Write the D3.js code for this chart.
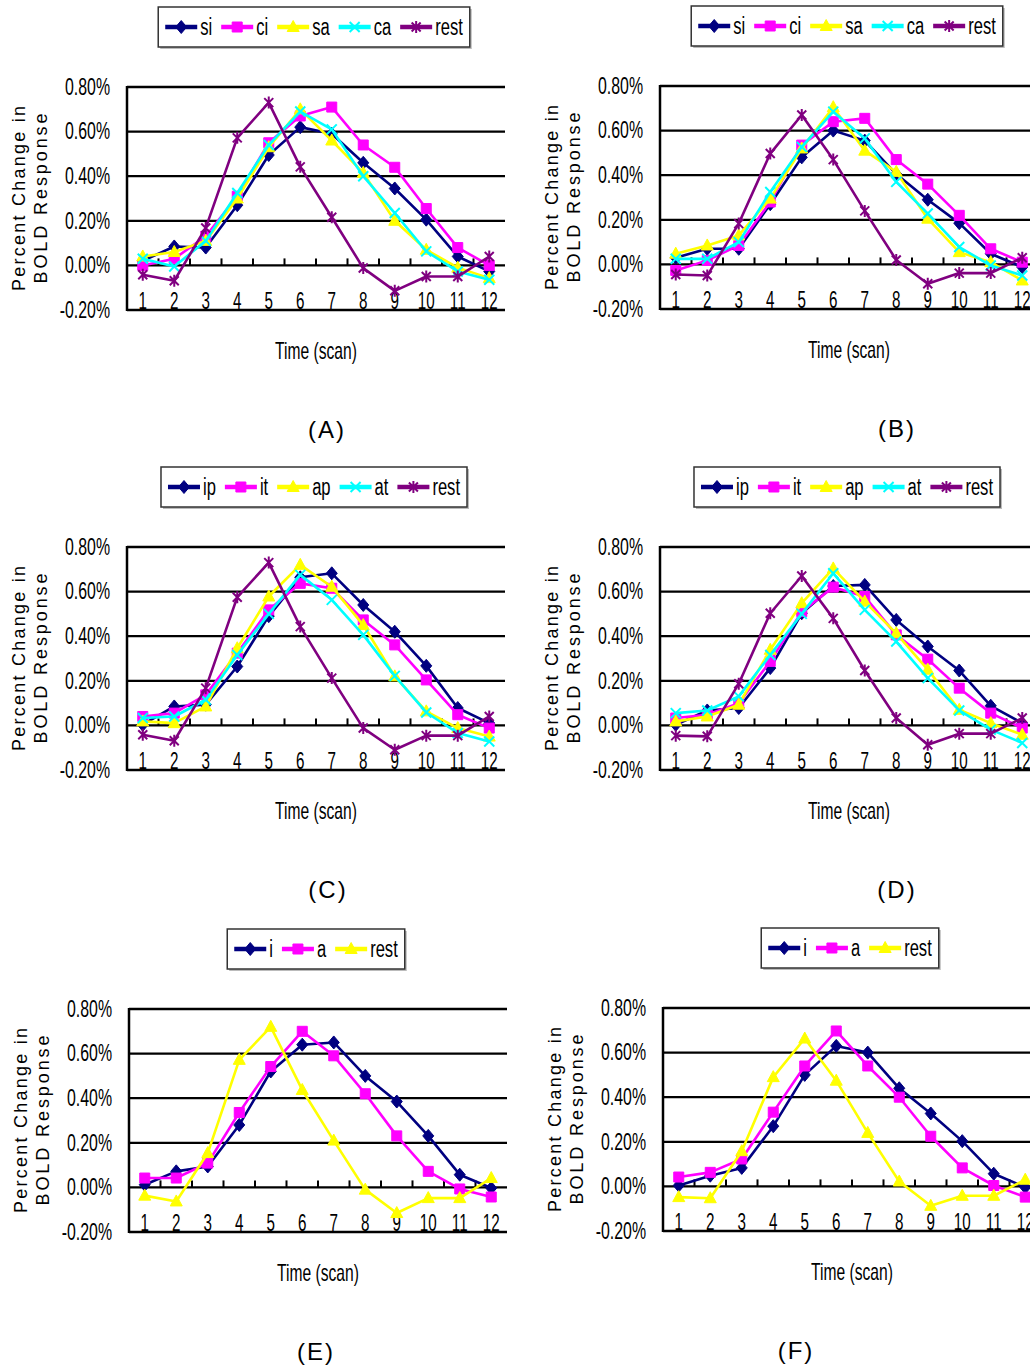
<!DOCTYPE html>
<html>
<head>
<meta charset="utf-8">
<title>BOLD response time courses</title>
<script src="https://d3js.org/d3.v7.min.js"></script>
<style>
  body { margin: 0; background: #fff; }
  text { font-family: "Liberation Sans", Arial, sans-serif; fill: #000; }
</style>
</head>
<body>
<script>
// ---- data (percent change) ----
var scans = [1, 2, 3, 4, 5, 6, 7, 8, 9, 10, 11, 12];
var yTicks = [-0.2, 0, 0.2, 0.4, 0.6, 0.8];

var aSi   = [0.02, 0.085, 0.08, 0.27, 0.495, 0.62, 0.59, 0.46, 0.345, 0.205, 0.04, -0.027];
var aCi   = [0.0, 0.03, 0.13, 0.31, 0.55, 0.67, 0.71, 0.54, 0.44, 0.255, 0.08, 0.0];
var aSa   = [0.04, 0.06, 0.11, 0.30, 0.53, 0.70, 0.56, 0.415, 0.20, 0.07, -0.01, -0.057];
var aCa   = [0.03, -0.005, 0.11, 0.325, 0.54, 0.69, 0.61, 0.40, 0.235, 0.063, -0.027, -0.064];
var aRest = [-0.042, -0.069, 0.168, 0.572, 0.73, 0.442, 0.216, -0.012, -0.114, -0.05, -0.05, 0.04];

var bSi   = [0.03, 0.07, 0.07, 0.27, 0.48, 0.60, 0.555, 0.405, 0.29, 0.185, 0.048, -0.012];
var bCi   = [-0.027, 0.018, 0.085, 0.28, 0.535, 0.64, 0.655, 0.47, 0.36, 0.22, 0.07, 0.01];
var bSa   = [0.048, 0.085, 0.13, 0.295, 0.52, 0.705, 0.51, 0.415, 0.205, 0.055, 0.01, -0.072];
var bCa   = [0.025, 0.025, 0.10, 0.325, 0.527, 0.685, 0.565, 0.37, 0.228, 0.078, -0.005, -0.05];
var bRest = [-0.045, -0.05, 0.183, 0.497, 0.67, 0.47, 0.24, 0.02, -0.087, -0.039, -0.039, 0.03];

var cIp   = [0.003, 0.085, 0.093, 0.264, 0.49, 0.664, 0.682, 0.54, 0.42, 0.267, 0.078, 0.01];
var cIt   = [0.04, 0.055, 0.137, 0.324, 0.518, 0.637, 0.615, 0.473, 0.361, 0.204, 0.048, -0.012];
var cAp   = [0.018, 0.01, 0.085, 0.346, 0.578, 0.72, 0.622, 0.45, 0.22, 0.063, -0.012, -0.05];
var cAt   = [0.033, 0.04, 0.115, 0.316, 0.50, 0.675, 0.563, 0.406, 0.222, 0.058, -0.034, -0.072];
var cRest = [-0.042, -0.069, 0.167, 0.575, 0.73, 0.443, 0.212, -0.012, -0.109, -0.046, -0.046, 0.04];

var dIp   = [0.003, 0.067, 0.078, 0.257, 0.503, 0.625, 0.63, 0.473, 0.354, 0.246, 0.088, 0.01];
var dIt   = [0.033, 0.048, 0.10, 0.287, 0.51, 0.62, 0.578, 0.406, 0.297, 0.167, 0.055, -0.012];
var dAp   = [0.018, 0.04, 0.093, 0.339, 0.548, 0.704, 0.555, 0.413, 0.25, 0.07, 0.01, -0.042];
var dAt   = [0.055, 0.067, 0.13, 0.316, 0.50, 0.682, 0.518, 0.376, 0.212, 0.067, -0.019, -0.079];
var dRest = [-0.046, -0.049, 0.187, 0.503, 0.67, 0.48, 0.246, 0.033, -0.087, -0.037, -0.037, 0.033];

var eI    = [0.012, 0.072, 0.094, 0.28, 0.52, 0.64, 0.65, 0.50, 0.385, 0.231, 0.057, -0.003];
var eA    = [0.042, 0.042, 0.109, 0.336, 0.542, 0.70, 0.59, 0.42, 0.231, 0.072, -0.007, -0.043];
var eRest = [-0.037, -0.063, 0.154, 0.572, 0.72, 0.437, 0.21, -0.01, -0.115, -0.048, -0.048, 0.042];

var fI    = [0.004, 0.048, 0.083, 0.27, 0.50, 0.63, 0.60, 0.44, 0.327, 0.203, 0.057, -0.004];
var fA    = [0.042, 0.063, 0.123, 0.333, 0.54, 0.697, 0.54, 0.40, 0.225, 0.083, 0.004, -0.048];
var fRest = [-0.048, -0.053, 0.158, 0.49, 0.663, 0.474, 0.24, 0.022, -0.087, -0.042, -0.042, 0.03];

// ---- styles ----
var navy = "#000080", magenta = "#ff00ff", yellow = "#ffff00", cyan = "#00ffff", purple = "#800080";
var markerPath = {
  diamond: "M0,-6.5L5.5,0L0,6.5L-5.5,0Z",
  square: "M-5,-5h10v10h-10Z",
  triangle: "M0,-6.5L6,4.5L-6,4.5Z",
  cross: "M-5,-5L5,5M5,-5L-5,5",
  star: "M-4.5,-4.5L4.5,4.5M4.5,-4.5L-4.5,4.5M0,-6L0,6"
};
var filled = { diamond: true, square: true, triangle: true };

var panels = [
  { cap: "(A)", left: 127, top: 87, capX: 327, series: [
    ["si", aSi, navy, "diamond"], ["ci", aCi, magenta, "square"], ["sa", aSa, yellow, "triangle"],
    ["ca", aCa, cyan, "cross"], ["rest", aRest, purple, "star"]] },
  { cap: "(B)", left: 660, top: 86, capX: 897, series: [
    ["si", bSi, navy, "diamond"], ["ci", bCi, magenta, "square"], ["sa", bSa, yellow, "triangle"],
    ["ca", bCa, cyan, "cross"], ["rest", bRest, purple, "star"]] },
  { cap: "(C)", left: 127, top: 547, capX: 328, series: [
    ["ip", cIp, navy, "diamond"], ["it", cIt, magenta, "square"], ["ap", cAp, yellow, "triangle"],
    ["at", cAt, cyan, "cross"], ["rest", cRest, purple, "star"]] },
  { cap: "(D)", left: 660, top: 547, capX: 897, series: [
    ["ip", dIp, navy, "diamond"], ["it", dIt, magenta, "square"], ["ap", dAp, yellow, "triangle"],
    ["at", dAt, cyan, "cross"], ["rest", dRest, purple, "star"]] },
  { cap: "(E)", left: 129, top: 1009, capX: 316, series: [
    ["i", eI, navy, "diamond"], ["a", eA, magenta, "square"], ["rest", eRest, yellow, "triangle"]] },
  { cap: "(F)", left: 663, top: 1008, capX: 796, series: [
    ["i", fI, navy, "diamond"], ["a", fA, magenta, "square"], ["rest", fRest, yellow, "triangle"]] }
];

var plotW = 378, plotH = 223;
var fmt = d3.formatLocale({ decimal: ".", thousands: ",", grouping: [3], currency: ["", ""], minus: "-" }).format(".2f");

var svg = d3.select("body").append("svg")
    .attr("width", 1030)
    .attr("height", 1368)
    .style("background", "#fff");

// squeeze text horizontally (the figure uses a condensed face)
function squeeze(sel, k) {
  sel.each(function() {
    var w = this.getComputedTextLength();
    d3.select(this).attr("textLength", w * k).attr("lengthAdjust", "spacingAndGlyphs");
  });
}

function marker(g, type, color) {
  g.append("path")
    .attr("d", markerPath[type])
    .attr("fill", filled[type] ? color : "none")
    .attr("stroke", color)
    .attr("stroke-width", filled[type] ? 1 : 2);
}

panels.forEach(function(p) {
  var g = svg.append("g");
  var x = d3.scaleBand().domain(scans).range([p.left, p.left + plotW]);
  var y = d3.scaleLinear().domain([-0.2, 0.8]).range([p.top + plotH, p.top]);
  var cx = function(d) { return x(d) + x.bandwidth() / 2; };

  // gridlines
  g.selectAll(".grid").data(yTicks).enter().append("line")
    .attr("x1", p.left).attr("x2", p.left + plotW)
    .attr("y1", function(d) { return y(d); }).attr("y2", function(d) { return y(d); })
    .attr("stroke", "#000").attr("stroke-width", 2.3);
  // left axis line
  g.append("line")
    .attr("x1", p.left).attr("x2", p.left)
    .attr("y1", y(0.8) - 1).attr("y2", y(-0.2) + 1)
    .attr("stroke", "#000").attr("stroke-width", 2.5);
  // category boundary ticks on the zero line
  g.selectAll(".tk").data(scans.slice(1)).enter().append("line")
    .attr("x1", function(d) { return x(d); }).attr("x2", function(d) { return x(d); })
    .attr("y1", y(0)).attr("y2", y(0) - 7)
    .attr("stroke", "#000").attr("stroke-width", 2);

  // y axis labels
  var ya = g.append("g").attr("transform", "translate(" + p.left + ",0)")
    .call(d3.axisLeft(y).tickValues(yTicks).tickSize(0).tickPadding(17).tickFormat(function(d) { return fmt(d) + "%"; }));
  ya.attr("font-family", null).attr("font-size", null);
  ya.select(".domain").remove();
  ya.selectAll("text").style("font-size", "23px");
  squeeze(ya.selectAll("text"), 0.69);

  // x axis labels
  var xa = g.append("g").attr("transform", "translate(0," + y(0) + ")")
    .call(d3.axisBottom(x).tickSize(0).tickPadding(27));
  xa.attr("font-family", null).attr("font-size", null);
  xa.select(".domain").remove();
  xa.selectAll("text").style("font-size", "23px");
  squeeze(xa.selectAll("text"), 0.66);

  // y title
  var cy = p.top + plotH / 2;
  g.append("text")
    .attr("transform", "translate(" + (p.left - 102) + "," + cy + ") rotate(-90)")
    .attr("text-anchor", "middle").style("font-size", "18px")
    .attr("textLength", 185).attr("lengthAdjust", "spacing")
    .text("Percent Change in");
  g.append("text")
    .attr("transform", "translate(" + (p.left - 80) + "," + cy + ") rotate(-90)")
    .attr("text-anchor", "middle").style("font-size", "18px")
    .attr("textLength", 170).attr("lengthAdjust", "spacing")
    .text("BOLD Response");

  // x title and caption
  var tt = g.append("text")
    .attr("x", p.left + plotW / 2).attr("y", p.top + 272)
    .attr("text-anchor", "middle").style("font-size", "24px")
    .text("Time (scan)");
  squeeze(tt, 0.65);
  g.append("text")
    .attr("x", p.capX).attr("y", p.top + 351)
    .attr("text-anchor", "middle").style("font-size", "24px").style("letter-spacing", "2px")
    .text(p.cap);

  // series
  var line = d3.line().x(function(d, i) { return cx(scans[i]); }).y(function(d) { return y(d); });
  p.series.forEach(function(s) {
    g.append("path").datum(s[1])
      .attr("d", line)
      .attr("fill", "none").attr("stroke", s[2]).attr("stroke-width", 2.6)
      .attr("stroke-linejoin", "round");
    s[1].forEach(function(v, i) {
      var m = g.append("g").attr("transform", "translate(" + cx(scans[i]) + "," + y(v) + ")");
      marker(m, s[3], s[2]);
    });
  });

  // legend
  var lg = g.append("g");
  var ly = p.top - 60, pos = 7;
  p.series.forEach(function(s) {
    var it = lg.append("g");
    it.append("line").attr("x1", pos).attr("x2", pos + 32).attr("y1", ly).attr("y2", ly)
      .attr("stroke", s[2]).attr("stroke-width", 4.5);
    marker(it.append("g").attr("transform", "translate(" + (pos + 16) + "," + ly + ")"), s[3], s[2]);
    var t = it.append("text").attr("x", pos + 35).attr("y", ly + 8).style("font-size", "23px").text(s[0]);
    var w = t.node().getComputedTextLength() * 0.72;
    t.attr("textLength", w).attr("lengthAdjust", "spacingAndGlyphs");
    pos += 35 + w + 9;
  });
  var boxW = pos - 9 + 7;
  var bx = p.left + plotW / 2 - 2 - boxW / 2;
  lg.insert("rect", ":first-child")
    .attr("x", 0).attr("y", p.top - 80).attr("width", boxW).attr("height", 40)
    .attr("fill", "#fff").attr("stroke", "#333").attr("stroke-width", 1.5);
  lg.insert("rect", ":first-child")
    .attr("x", 2).attr("y", p.top - 78).attr("width", boxW).attr("height", 40)
    .attr("fill", "#bbb");
  lg.attr("transform", "translate(" + bx + ",0)");
});
</script>
</body>
</html>
